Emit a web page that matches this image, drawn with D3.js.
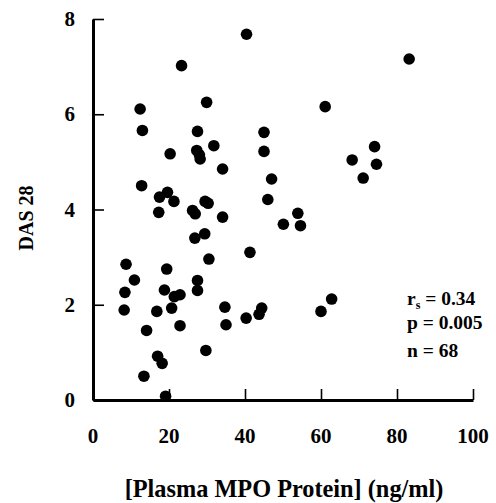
<!DOCTYPE html>
<html>
<head>
<meta charset="utf-8">
<script src="https://cdn.jsdelivr.net/npm/d3@7"></script>
<style>
  body { margin: 0; background: #fff; }
  svg text { font-family: "Liberation Serif", "Times New Roman", serif; font-weight: bold; fill: #000; }
</style>
</head>
<body>
<svg id="chart" width="496" height="503"></svg>
<script>
// MPO protein (ng/ml) vs DAS 28
const mpo = [40.4, 23.3, 12.4, 29.9, 13.0, 27.5, 31.8, 20.3, 27.3, 28.0, 28.2, 34.1, 12.8,
  17.5, 19.6, 21.3, 29.5, 30.3, 17.3, 26.2, 26.9, 34.1, 26.8, 29.4, 30.5, 8.7, 10.9, 19.4,
  8.4, 18.8, 21.4, 22.9, 27.5, 27.5, 8.2, 16.8, 20.7, 22.9, 14.1, 34.7, 35.0, 40.3, 29.7,
  17.0, 18.2, 13.4, 19.1, 83.2, 61.1, 45.0, 45.0, 74.1, 68.2, 74.6, 71.1, 47.0, 46.0,
  53.9, 50.1, 54.6, 41.3, 62.8, 60.0, 44.4, 43.7];
const das28 = [7.68, 7.02, 6.11, 6.25, 5.66, 5.64, 5.34, 5.17, 5.24, 5.15, 5.06, 4.85, 4.50,
  4.26, 4.36, 4.17, 4.17, 4.13, 3.94, 3.98, 3.91, 3.84, 3.40, 3.49, 2.96, 2.85, 2.52, 2.75,
  2.26, 2.31, 2.17, 2.21, 2.51, 2.30, 1.89, 1.86, 1.93, 1.56, 1.46, 1.95, 1.58, 1.72, 1.04,
  0.92, 0.77, 0.50, 0.08, 7.16, 6.16, 5.62, 5.22, 5.32, 5.04, 4.95, 4.66, 4.64, 4.21,
  3.92, 3.69, 3.66, 3.10, 2.12, 1.86, 1.93, 1.80];
const xTicks = [0, 20, 40, 60, 80, 100];
const yTicks = [0, 2, 4, 6, 8];
const stats = [["r", "s", " = 0.34"], ["p", "", " = 0.005"], ["n", "", " = 68"]];

const svg = d3.select("#chart");
const x = d3.scaleLinear().domain([0, 100]).range([93, 473]);
const y = d3.scaleLinear().domain([0, 8]).range([400, 19]);

// axes: lines and inward ticks only, labels drawn below as plain text
const xAxis = svg.append("g")
  .attr("transform", "translate(0,400)")
  .call(d3.axisBottom(x).tickValues(xTicks).tickSize(-11).tickSizeOuter(0).tickFormat(""));
const yAxis = svg.append("g")
  .attr("transform", "translate(93,0)")
  .call(d3.axisLeft(y).tickValues(yTicks).tickSize(-11).tickSizeOuter(0).tickFormat(""));

[xAxis, yAxis].forEach(g => {
  g.select(".domain").attr("stroke", "#000").attr("stroke-width", 3);
  g.selectAll(".tick line").attr("stroke", "#000").attr("stroke-width", 1.6);
  g.selectAll(".tick text").remove();
});

svg.append("g")
  .selectAll("text")
  .data(xTicks)
  .join("text")
  .attr("x", d => x(d))
  .attr("y", 443)
  .attr("text-anchor", "middle")
  .attr("font-size", 21)
  .text(d => d);

svg.append("g")
  .selectAll("text")
  .data(yTicks)
  .join("text")
  .attr("x", 75)
  .attr("y", d => y(d))
  .attr("dy", "0.34em")
  .attr("text-anchor", "end")
  .attr("font-size", 21)
  .text(d => d);

svg.append("g")
  .selectAll("circle")
  .data(mpo.map((v, i) => [v, das28[i]]))
  .join("circle")
  .attr("cx", d => x(d[0]))
  .attr("cy", d => y(d[1]))
  .attr("r", 5.8)
  .attr("fill", "#000");

svg.append("text")
  .attr("x", 284).attr("y", 497)
  .attr("text-anchor", "middle")
  .attr("font-size", 24.3)
  .text("[Plasma MPO Protein] (ng/ml)");

svg.append("text")
  .attr("transform", "translate(33,218) rotate(-90)")
  .attr("text-anchor", "middle")
  .attr("font-size", 20)
  .text("DAS 28");

const st = svg.append("g").attr("font-size", 19.5);
stats.forEach((s, i) => {
  const t = st.append("text").attr("x", 407).attr("y", [305, 329, 357][i]);
  t.append("tspan").text(s[0]);
  if (s[1]) t.append("tspan").attr("dy", 4).attr("font-size", 12).text(s[1]);
  t.append("tspan").attr("dy", s[1] ? -4 : 0).text(s[2]);
});
</script>
</body>
</html>
